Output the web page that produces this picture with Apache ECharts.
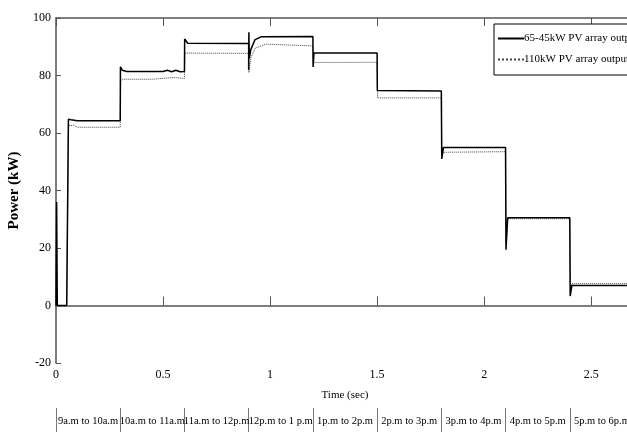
<!DOCTYPE html>
<html><head><meta charset="utf-8">
<script src="https://cdn.jsdelivr.net/npm/echarts@6/dist/echarts.min.js"></script>
<style>html,body{margin:0;padding:0;background:#fff}#c{width:627px;height:432px}</style>
</head><body><div id="c"></div>
<script>
const periods = ['9a.m to 10a.m','10a.m to 11a.m','11a.m to 12p.m','12p.m to 1 p.m','1p.m to 2p.m','2p.m to 3p.m','3p.m to 4p.m','4p.m to 5p.m','5p.m to 6p.m'];
const seriesNames = ['65-45kW PV array output','110kW PV array output'];
const timeA = [0,0.003,0.006,0.05,0.058,0.07,0.1,0.3,0.301,0.31,0.33,0.5,0.52,0.54,0.56,0.58,0.6,0.601,0.615,0.9,0.9,0.901,0.903,0.91,0.93,0.96,1.2,1.201,1.205,1.5,1.501,1.8,1.802,1.81,2.1,2.102,2.11,2.4,2.402,2.41,2.7];
const powerA = [0,36,0,0,64.8,64.6,64.3,64.3,83,81.8,81.4,81.4,81.8,81.3,81.8,81.3,81.4,92.7,91.2,91.1,82,95,86,89,92.5,93.5,93.6,83,87.8,87.8,74.8,74.6,51,55,55,19.4,30.5,30.5,3.3,7,7];
const timeB = [0,0.05,0.058,0.07,0.08,0.1,0.3,0.302,0.31,0.45,0.55,0.6,0.602,0.9,0.901,0.91,0.93,0.98,1.2,1.202,1.5,1.502,1.8,1.802,1.81,2.1,2.102,2.11,2.4,2.402,2.41,2.7];
const powerB = [0,0,62.8,62.5,62.8,62,62,78,78.7,78.7,79.3,79,87.8,87.7,81,86,89.5,90.9,90.3,84.5,84.6,72.2,72.2,52,53.3,53.5,22,30.2,30.2,5,7.6,7.6];

const pairs = (t, v) => t.map((x, i) => [x, v[i]]);
const font = 'Liberation Serif';
const axisCol = '#555';
const chart = echarts.init(document.getElementById('c'));
chart.setOption({
  animation: false,
  backgroundColor: '#fff',
  textStyle: { fontFamily: font },
  grid: { left: 56, top: 18, width: 578, height: 345, outerBoundsMode: 'none', containLabel: false },
  legend: {
    orient: 'vertical', left: 494, top: 24,
    backgroundColor: '#fff', borderColor: '#000', borderWidth: 1,
    padding: [9, 8, 10, 3], itemGap: 10, itemWidth: 26, itemHeight: 10,
    itemStyle: { opacity: 0 },
    textStyle: { fontFamily: font, fontSize: 11, color: '#000', padding: [0,0,0,-5] },
    data: seriesNames
  },
  xAxis: [
    { type: 'value', min: 0, max: 2.7, interval: 0.5, position: 'bottom',
      name: 'Time (sec)', nameLocation: 'middle', nameGap: 27,
      nameTextStyle: { fontFamily: font, fontSize: 11, color: '#000' },
      axisLine: { lineStyle: { color: axisCol, width: 1.5 } },
      axisTick: { inside: true, length: 9, lineStyle: { color: axisCol } },
      axisLabel: { fontFamily: font, fontSize: 12, color: '#000', margin: 6, showMaxLabel: false },
      splitLine: { show: false } },
    { type: 'value', min: 0, max: 2.7, interval: 0.5, position: 'top',
      axisLine: { lineStyle: { color: axisCol, width: 1.5 } },
      axisTick: { inside: true, length: 8, lineStyle: { color: axisCol } },
      axisLabel: { show: false }, splitLine: { show: false } },
    { type: 'category', data: periods, position: 'bottom', offset: 45, boundaryGap: true,
      axisLine: { show: false },
      axisTick: { show: true, inside: false, length: 26, lineStyle: { color: '#777' } },
      axisLabel: { fontFamily: font, fontSize: 10.5, color: '#000', margin: 8, interval: 0 } }
  ],
  yAxis: {
    type: 'value', min: -20, max: 100, interval: 20,
    name: 'Power (kW)', nameLocation: 'middle', nameGap: 33,
    nameTextStyle: { fontFamily: font, fontSize: 15, fontWeight: 'bold', color: '#000' },
    axisLine: { show: true, lineStyle: { color: axisCol, width: 1.5 } },
    axisTick: { show: true, inside: true, length: 5, lineStyle: { color: axisCol } },
    axisLabel: { fontFamily: font, fontSize: 12, color: '#000', margin: 5 },
    splitLine: { show: false }
  },
  series: [
    { name: seriesNames[0], type: 'line', xAxisIndex: 0, showSymbol: false, symbol: 'none',
      data: pairs(timeA, powerA), lineStyle: { color: '#000', width: 1.5 }, itemStyle: { color: '#000' }, z: 3 },
    { name: seriesNames[1], type: 'line', xAxisIndex: 0, showSymbol: false, symbol: 'none',
      data: pairs(timeB, powerB), lineStyle: { color: '#444', width: 1, type: 'dotted' }, itemStyle: { color: '#444' }, z: 2 }
  ]
});
</script></body></html>
